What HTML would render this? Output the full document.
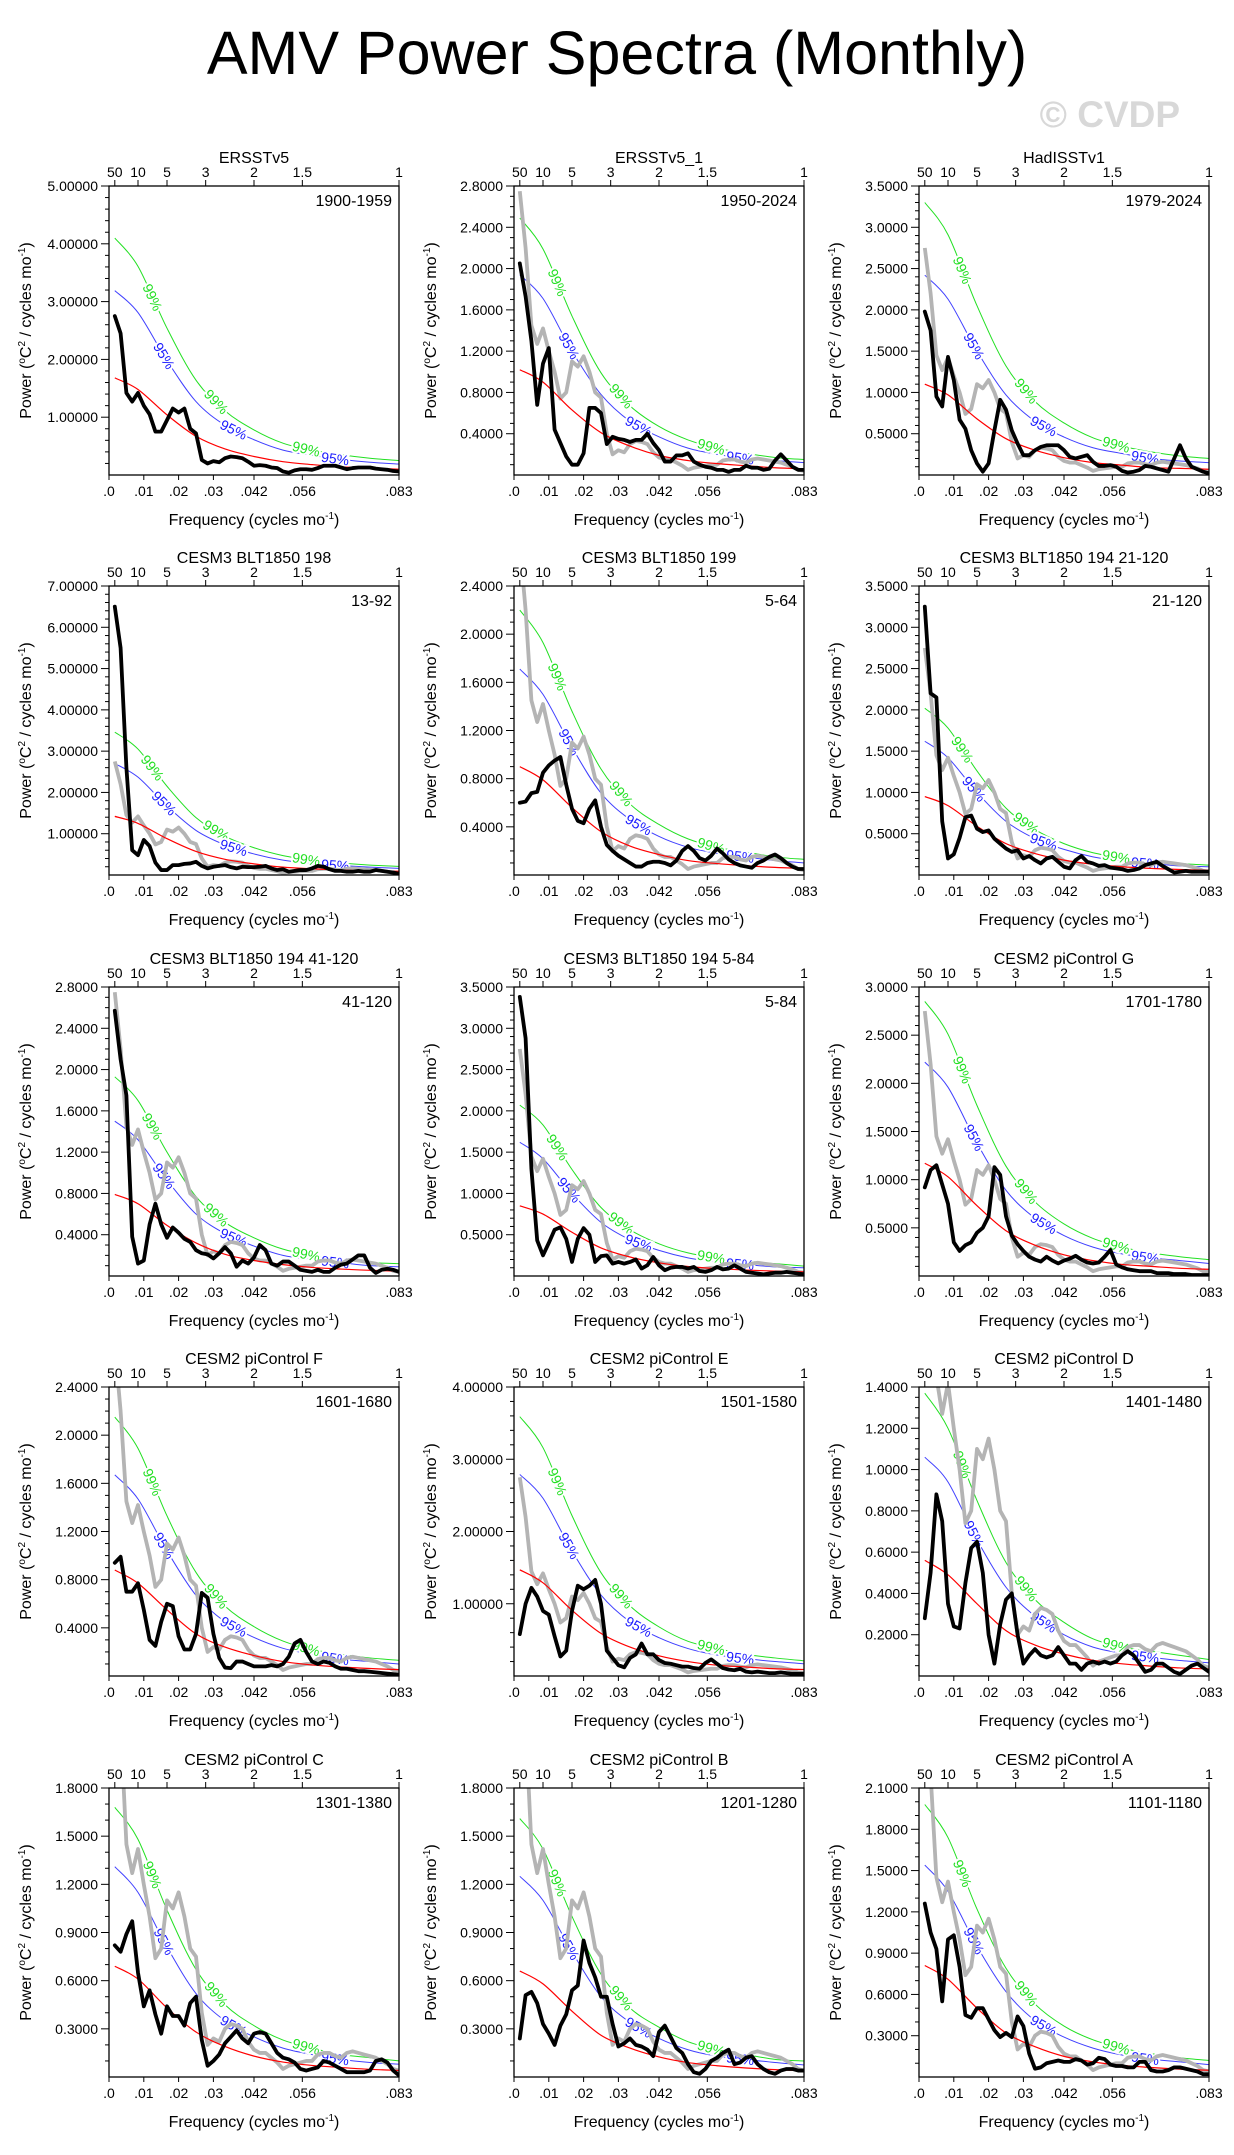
<!DOCTYPE html>
<html><head><meta charset="utf-8"><title>AMV Power Spectra (Monthly)</title>
<style>
html,body{margin:0;padding:0;background:#fff;}
svg{display:block;font-family:"Liberation Sans",Arial,sans-serif;}
</style></head>
<body>
<svg id="chart" width="1234" height="2155" viewBox="0 0 1234 2155" xmlns="http://www.w3.org/2000/svg">
<rect x="0" y="0" width="1234" height="2155" fill="#fff"/>
<text x="617" y="74" font-size="61" text-anchor="middle" fill="#000">AMV Power Spectra (Monthly)</text>
<text x="1180" y="127" font-size="37" font-weight="bold" text-anchor="end" fill="#d8d8d8">© CVDP</text>
<g id="panels"></g>
</svg>
<script>
// ---------- data ----------
const freqMax = 1/12;
const freqStep = 1/600;
const freqTickValues = [0, 0.01, 0.02, 0.03, 1/24, 1/18, 1/12];
const freqTickLabels = [".0", ".01", ".02", ".03", ".042", ".056", ".083"];
const periodTickYears = [50, 10, 5, 3, 2, 1.5, 1];
const periodTickLabels = ["50", "10", "5", "3", "2", "1.5", "1"];
const ciIndex = [1, 5, 10, 15, 20, 25, 30, 35, 40, 45, 50];

const grayRef = [2.75,2.2,1.45,1.27,1.42,1.2,1.0,0.74,0.8,1.1,1.05,1.15,1.0,0.8,0.75,0.4,0.2,0.24,0.22,0.3,0.33,0.32,0.3,0.22,0.17,0.15,0.15,0.12,0.09,0.05,0.07,0.08,0.09,0.1,0.1,0.14,0.15,0.15,0.13,0.12,0.15,0.16,0.15,0.14,0.13,0.12,0.1,0.08,0.05,0.04];

const black1 = [2.75,2.45,1.42,1.27,1.42,1.2,1.05,0.75,0.75,0.95,1.15,1.08,1.15,0.8,0.72,0.26,0.2,0.24,0.22,0.29,0.32,0.31,0.29,0.23,0.16,0.17,0.16,0.13,0.12,0.06,0.04,0.08,0.1,0.1,0.09,0.12,0.16,0.16,0.16,0.13,0.1,0.12,0.13,0.13,0.13,0.11,0.1,0.09,0.07,0.06];
const black2 = [2.05,1.73,1.3,0.68,1.08,1.23,0.44,0.31,0.18,0.1,0.1,0.21,0.65,0.65,0.6,0.3,0.37,0.35,0.34,0.32,0.34,0.34,0.4,0.31,0.24,0.13,0.13,0.19,0.19,0.21,0.13,0.1,0.08,0.07,0.05,0.05,0.03,0.05,0.05,0.09,0.07,0.07,0.05,0.06,0.14,0.2,0.14,0.08,0.05,0.05];
const black3 = [1.98,1.75,0.95,0.83,1.43,1.15,0.67,0.56,0.3,0.14,0.04,0.14,0.54,0.91,0.79,0.54,0.38,0.24,0.24,0.3,0.34,0.36,0.36,0.36,0.3,0.22,0.2,0.22,0.24,0.16,0.11,0.11,0.12,0.1,0.05,0.03,0.04,0.06,0.11,0.1,0.08,0.06,0.04,0.2,0.36,0.2,0.1,0.07,0.04,0.02];
const black4 = [6.5,5.5,2.6,0.6,0.48,0.85,0.7,0.3,0.12,0.12,0.24,0.24,0.27,0.28,0.32,0.22,0.16,0.2,0.22,0.24,0.19,0.16,0.2,0.19,0.19,0.2,0.22,0.16,0.12,0.14,0.08,0.1,0.12,0.12,0.16,0.22,0.2,0.14,0.1,0.1,0.08,0.08,0.1,0.08,0.08,0.12,0.1,0.08,0.06,0.03];
const black5 = [0.6,0.61,0.68,0.69,0.85,0.91,0.95,0.98,0.75,0.55,0.45,0.43,0.55,0.62,0.4,0.25,0.2,0.16,0.13,0.1,0.07,0.07,0.1,0.11,0.11,0.1,0.08,0.12,0.2,0.24,0.2,0.14,0.12,0.16,0.22,0.18,0.13,0.1,0.08,0.07,0.06,0.1,0.12,0.15,0.17,0.14,0.1,0.07,0.05,0.05];
const black6 = [3.25,2.2,2.15,0.65,0.2,0.25,0.45,0.7,0.72,0.56,0.52,0.54,0.44,0.38,0.32,0.28,0.3,0.2,0.23,0.18,0.14,0.2,0.22,0.16,0.1,0.08,0.18,0.23,0.16,0.14,0.11,0.12,0.09,0.08,0.07,0.05,0.06,0.08,0.12,0.14,0.16,0.11,0.07,0.03,0.04,0.05,0.04,0.04,0.04,0.04];
const black7 = [2.57,2.1,1.75,0.38,0.12,0.15,0.5,0.7,0.5,0.37,0.47,0.42,0.36,0.33,0.25,0.22,0.21,0.17,0.22,0.28,0.22,0.09,0.15,0.12,0.18,0.3,0.25,0.12,0.1,0.14,0.14,0.1,0.06,0.05,0.04,0.06,0.04,0.04,0.08,0.11,0.12,0.16,0.2,0.2,0.08,0.03,0.06,0.07,0.06,0.04];
const black8 = [3.38,2.88,1.3,0.43,0.25,0.4,0.56,0.59,0.45,0.17,0.45,0.58,0.5,0.17,0.24,0.25,0.15,0.17,0.15,0.17,0.2,0.09,0.13,0.23,0.13,0.07,0.1,0.11,0.11,0.09,0.11,0.06,0.05,0.07,0.11,0.08,0.09,0.13,0.09,0.05,0.04,0.03,0.02,0.03,0.04,0.04,0.05,0.04,0.03,0.02];
const black9 = [0.92,1.1,1.15,0.95,0.75,0.35,0.26,0.32,0.35,0.45,0.5,0.62,1.13,1.05,0.62,0.42,0.33,0.26,0.2,0.17,0.15,0.2,0.16,0.13,0.16,0.18,0.21,0.17,0.14,0.13,0.14,0.2,0.27,0.12,0.09,0.07,0.06,0.05,0.05,0.05,0.03,0.03,0.03,0.02,0.02,0.02,0.01,0.01,0.01,0.01];
const black10 = [0.94,0.99,0.7,0.7,0.77,0.55,0.3,0.25,0.45,0.6,0.58,0.33,0.22,0.22,0.35,0.69,0.65,0.35,0.15,0.07,0.065,0.12,0.12,0.1,0.08,0.08,0.08,0.09,0.08,0.1,0.16,0.27,0.3,0.2,0.12,0.1,0.12,0.11,0.08,0.06,0.06,0.05,0.04,0.04,0.035,0.03,0.025,0.02,0.015,0.01];
const black11 = [0.58,1.0,1.22,1.1,0.9,0.85,0.55,0.27,0.35,0.9,1.25,1.2,1.25,1.33,1.0,0.35,0.25,0.15,0.12,0.25,0.3,0.45,0.3,0.3,0.22,0.18,0.17,0.15,0.13,0.13,0.11,0.1,0.18,0.23,0.17,0.11,0.09,0.08,0.1,0.06,0.05,0.06,0.05,0.04,0.04,0.05,0.04,0.03,0.03,0.03];
const black12 = [0.28,0.5,0.88,0.75,0.35,0.24,0.23,0.45,0.62,0.65,0.5,0.2,0.06,0.25,0.37,0.4,0.2,0.06,0.1,0.13,0.1,0.09,0.1,0.14,0.1,0.06,0.06,0.03,0.06,0.07,0.06,0.07,0.06,0.07,0.1,0.12,0.1,0.06,0.02,0.03,0.06,0.06,0.04,0.02,0.01,0.03,0.05,0.06,0.04,0.02];
const black13 = [0.82,0.78,0.89,0.97,0.65,0.44,0.54,0.39,0.27,0.44,0.38,0.38,0.32,0.46,0.5,0.23,0.07,0.1,0.14,0.21,0.25,0.29,0.24,0.21,0.27,0.28,0.27,0.21,0.15,0.12,0.11,0.09,0.05,0.04,0.05,0.06,0.1,0.09,0.07,0.05,0.03,0.03,0.03,0.03,0.04,0.1,0.11,0.09,0.04,0.01];
const black14 = [0.24,0.51,0.53,0.46,0.33,0.27,0.2,0.32,0.39,0.54,0.57,0.85,0.71,0.62,0.5,0.5,0.33,0.19,0.21,0.24,0.2,0.19,0.17,0.13,0.28,0.32,0.25,0.18,0.15,0.08,0.03,0.02,0.05,0.1,0.12,0.15,0.17,0.08,0.09,0.12,0.13,0.08,0.05,0.03,0.02,0.04,0.05,0.05,0.04,0.04];
const black15 = [1.26,1.05,0.93,0.55,1.0,1.03,0.8,0.45,0.43,0.5,0.5,0.42,0.34,0.29,0.32,0.29,0.44,0.37,0.17,0.06,0.07,0.1,0.11,0.12,0.11,0.11,0.13,0.12,0.09,0.1,0.14,0.13,0.09,0.08,0.08,0.07,0.07,0.11,0.11,0.05,0.04,0.04,0.05,0.07,0.07,0.06,0.05,0.04,0.02,0.02];

const red1 = [1.68,1.48,1.04,0.67,0.45,0.32,0.23,0.18,0.14,0.12,0.10];
const blue1 = [3.19,2.81,1.98,1.27,0.86,0.61,0.43,0.34,0.27,0.22,0.19];
const green1 = [4.10,3.61,2.54,1.64,1.11,0.78,0.55,0.43,0.35,0.29,0.25];
const red2 = [1.02,0.90,0.63,0.41,0.28,0.19,0.14,0.11,0.09,0.07,0.06];
const blue2 = [1.94,1.71,1.20,0.78,0.52,0.37,0.26,0.20,0.16,0.14,0.12];
const green2 = [2.49,2.19,1.54,0.99,0.67,0.47,0.34,0.26,0.21,0.17,0.15];
const red3 = [1.10,0.97,0.68,0.44,0.30,0.21,0.15,0.12,0.09,0.08,0.07];
const blue3 = [2.42,2.13,1.50,0.97,0.65,0.46,0.33,0.26,0.20,0.17,0.15];
const green3 = [3.30,2.91,2.05,1.32,0.89,0.63,0.45,0.35,0.28,0.23,0.20];
const red4 = [1.42,1.25,0.88,0.57,0.38,0.27,0.19,0.15,0.12,0.10,0.09];
const blue4 = [2.70,2.37,1.67,1.08,0.73,0.51,0.36,0.28,0.23,0.19,0.16];
const green4 = [3.46,3.05,2.15,1.39,0.94,0.66,0.47,0.36,0.29,0.24,0.21];
const red5 = [0.90,0.79,0.56,0.36,0.24,0.17,0.12,0.095,0.077,0.063,0.054];
const blue5 = [1.71,1.50,1.06,0.68,0.46,0.32,0.23,0.18,0.15,0.12,0.10];
const green5 = [2.20,1.93,1.36,0.88,0.59,0.42,0.30,0.23,0.19,0.15,0.13];
const red6 = [0.95,0.84,0.59,0.38,0.26,0.18,0.13,0.10,0.08,0.067,0.057];
const blue6 = [1.62,1.42,1.00,0.65,0.44,0.31,0.22,0.17,0.14,0.11,0.10];
const green6 = [2.02,1.78,1.26,0.81,0.55,0.38,0.27,0.21,0.17,0.14,0.12];
const red7 = [0.79,0.70,0.49,0.32,0.21,0.15,0.11,0.083,0.067,0.055,0.047];
const blue7 = [1.50,1.32,0.93,0.60,0.41,0.29,0.20,0.16,0.13,0.10,0.09];
const green7 = [1.93,1.70,1.20,0.77,0.52,0.37,0.26,0.20,0.16,0.13,0.12];
const red8 = [0.85,0.75,0.53,0.34,0.23,0.16,0.115,0.09,0.072,0.06,0.051];
const blue8 = [1.62,1.42,1.00,0.65,0.44,0.31,0.22,0.17,0.14,0.11,0.10];
const green8 = [2.07,1.83,1.29,0.83,0.56,0.39,0.28,0.22,0.18,0.15,0.12];
const red9 = [1.17,1.03,0.73,0.47,0.32,0.22,0.16,0.12,0.10,0.08,0.07];
const blue9 = [2.22,1.96,1.38,0.89,0.60,0.42,0.30,0.23,0.19,0.16,0.13];
const green9 = [2.85,2.51,1.77,1.14,0.77,0.54,0.39,0.30,0.24,0.20,0.17];
const red10 = [0.88,0.77,0.55,0.35,0.24,0.17,0.12,0.092,0.075,0.062,0.053];
const blue10 = [1.67,1.47,1.04,0.67,0.45,0.32,0.23,0.18,0.14,0.12,0.10];
const green10 = [2.15,1.89,1.33,0.86,0.58,0.41,0.29,0.22,0.18,0.15,0.13];
const red11 = [1.47,1.29,0.91,0.59,0.40,0.28,0.20,0.15,0.125,0.10,0.09];
const blue11 = [2.79,2.46,1.73,1.12,0.75,0.53,0.38,0.29,0.24,0.20,0.17];
const green11 = [3.59,3.16,2.22,1.43,0.97,0.68,0.48,0.38,0.30,0.25,0.21];
const red12 = [0.56,0.49,0.35,0.22,0.15,0.106,0.076,0.059,0.048,0.039,0.034];
const blue12 = [1.06,0.94,0.66,0.43,0.29,0.20,0.14,0.11,0.09,0.075,0.064];
const green12 = [1.37,1.20,0.85,0.55,0.37,0.26,0.18,0.14,0.12,0.10,0.08];
const red13 = [0.69,0.61,0.43,0.28,0.19,0.13,0.093,0.072,0.059,0.048,0.041];
const blue13 = [1.31,1.15,0.81,0.52,0.35,0.25,0.18,0.14,0.11,0.09,0.08];
const green13 = [1.68,1.48,1.04,0.67,0.45,0.32,0.23,0.18,0.14,0.12,0.10];
const red14 = [0.66,0.58,0.41,0.26,0.18,0.125,0.09,0.07,0.056,0.046,0.04];
const blue14 = [1.25,1.10,0.78,0.50,0.34,0.24,0.17,0.13,0.11,0.09,0.075];
const green14 = [1.61,1.42,1.00,0.64,0.43,0.31,0.22,0.17,0.14,0.11,0.10];
const red15 = [0.81,0.71,0.50,0.32,0.22,0.15,0.11,0.085,0.069,0.057,0.049];
const blue15 = [1.54,1.35,0.95,0.62,0.41,0.29,0.21,0.16,0.13,0.11,0.09];
const green15 = [1.98,1.74,1.22,0.79,0.53,0.37,0.27,0.21,0.17,0.14,0.12];

const panelTitles = ["ERSSTv5","ERSSTv5_1","HadISSTv1","CESM3 BLT1850 198","CESM3 BLT1850 199","CESM3 BLT1850 194 21-120","CESM3 BLT1850 194 41-120","CESM3 BLT1850 194 5-84","CESM2 piControl G","CESM2 piControl F","CESM2 piControl E","CESM2 piControl D","CESM2 piControl C","CESM2 piControl B","CESM2 piControl A"];
const panelYears = ["1900-1959","1950-2024","1979-2024","13-92","5-64","21-120","41-120","5-84","1701-1780","1601-1680","1501-1580","1401-1480","1301-1380","1201-1280","1101-1180"];
const panelYMax = [5.0,2.8,3.5,7.0,2.4,3.5,2.8,3.5,3.0,2.4,4.0,1.4,1.8,1.8,2.1];
const panelYStep = [1.0,0.4,0.5,1.0,0.4,0.5,0.4,0.5,0.5,0.4,1.0,0.2,0.3,0.3,0.3];
const panelYDecimals = [5,4,4,5,4,4,4,4,4,4,5,4,4,4,4];
const blackSeries = [black1,black2,black3,black4,black5,black6,black7,black8,black9,black10,black11,black12,black13,black14,black15];
const redSeries = [red1,red2,red3,red4,red5,red6,red7,red8,red9,red10,red11,red12,red13,red14,red15];
const blueSeries = [blue1,blue2,blue3,blue4,blue5,blue6,blue7,blue8,blue9,blue10,blue11,blue12,blue13,blue14,blue15];
const greenSeries = [green1,green2,green3,green4,green5,green6,green7,green8,green9,green10,green11,green12,green13,green14,green15];
const showGray = [false,true,true,true,true,true,true,true,true,true,true,true,true,true,true];

// ---------- drawing ----------
const NS = "http://www.w3.org/2000/svg";
const root = document.getElementById("panels");
const PW = 290, PH = 289;
const colLeft = [109, 514, 919];
const rowTop = [186, 586, 987, 1387, 1788];

function mk(tag, attrs, parent) {
  const el = document.createElementNS(NS, tag);
  for (const k in attrs) el.setAttribute(k, attrs[k]);
  parent.appendChild(el);
  return el;
}
function smoothPath(pts) {
  let d = "M" + pts[0][0].toFixed(2) + "," + pts[0][1].toFixed(2);
  for (let i = 0; i < pts.length - 1; i++) {
    const p0 = pts[Math.max(0, i - 1)], p1 = pts[i], p2 = pts[i + 1], p3 = pts[Math.min(pts.length - 1, i + 2)];
    const c1x = p1[0] + (p2[0] - p0[0]) / 6, c1y = p1[1] + (p2[1] - p0[1]) / 6;
    const c2x = p2[0] - (p3[0] - p1[0]) / 6, c2y = p2[1] - (p3[1] - p1[1]) / 6;
    d += " C" + c1x.toFixed(2) + "," + c1y.toFixed(2) + " " + c2x.toFixed(2) + "," + c2y.toFixed(2) + " " + p2[0].toFixed(2) + "," + p2[1].toFixed(2);
  }
  return d;
}
function interpAt(pts, x) {
  for (let i = 0; i < pts.length - 1; i++) {
    if (x >= pts[i][0] && x <= pts[i + 1][0]) {
      const t = (x - pts[i][0]) / (pts[i + 1][0] - pts[i][0]);
      return { y: pts[i][1] + t * (pts[i + 1][1] - pts[i][1]),
               ang: Math.atan2(pts[i + 1][1] - pts[i][1], pts[i + 1][0] - pts[i][0]) * 180 / Math.PI };
    }
  }
  return { y: pts[pts.length - 1][1], ang: 0 };
}

for (let k = 0; k < 15; k++) {
  const L = colLeft[k % 3], T = rowTop[Math.floor(k / 3)];
  const B = T + PH, R = L + PW;
  const ymax = panelYMax[k];
  const xs = f => L + f / freqMax * PW;
  const ys = v => B - v / ymax * PH;

  const g = mk("g", {}, root);
  
  

  const clipId = "clip" + k;
  const cp = mk("clipPath", { id: clipId }, g);
  mk("rect", { x: L, y: T, width: PW, height: PH }, cp);

  const tt = mk("text", { x: L + PW / 2, y: T - 23, "font-size": 16, "text-anchor": "middle", fill: "#000" }, g);
  tt.textContent = panelTitles[k];
  
  

  const yr = mk("text", { x: R - 7, y: T + 20, "font-size": 16, "text-anchor": "end", fill: "#000" }, g);
  yr.textContent = panelYears[k];
  
  

  const cg = mk("g", { "clip-path": "url(#" + clipId + ")" }, g);
  const confSets = [
    { arr: greenSeries[k], color: "#22e022", name: "ci99-curve", label: "99%", lab: [7.5, 18.5, 34] },
    { arr: blueSeries[k], color: "#4040ff", name: "ci95-curve", label: "95%", lab: [9.5, 21.5, 39] }
  ];
  const labelItems = [];
  confSets.forEach(cs => {
    const pts = ciIndex.map((ix, j) => [xs(ix * freqStep), ys(cs.arr[j])]);
    const p = mk("path", { d: smoothPath(pts), fill: "none", stroke: cs.color, "stroke-width": 1 }, cg);
    
    
    cs.lab.forEach(ix => labelItems.push({ pts, ix, cs }));
  });
  labelItems.forEach(li => {
    const x = xs(li.ix * freqStep);
    const r = interpAt(li.pts, x);
    const t = mk("text", { x: x, y: r.y + 5, "font-size": 14, "text-anchor": "middle", fill: li.cs.color === "#4040ff" ? "#1a1aff" : "#22e022",
      stroke: "#fff", "stroke-width": 4, "paint-order": "stroke", transform: "rotate(" + r.ang.toFixed(1) + " " + x.toFixed(1) + " " + r.y.toFixed(1) + ")" }, cg);
    t.textContent = li.cs.label;
    
    
  });

  if (showGray[k]) {
    const gp = grayRef.map((v, i) => xs((i + 1) * freqStep).toFixed(2) + "," + ys(v).toFixed(2)).join(" ");
    const pl = mk("polyline", { points: gp, fill: "none", stroke: "#b4b4b4", "stroke-width": 3.8, "stroke-linejoin": "round" }, cg);
    
    
  }
  const rpts = ciIndex.map((ix, j) => [xs(ix * freqStep), ys(redSeries[k][j])]);
  const rp = mk("path", { d: smoothPath(rpts), fill: "none", stroke: "#ff0000", "stroke-width": 1.2 }, cg);
  
  

  const bp = blackSeries[k].map((v, i) => xs((i + 1) * freqStep).toFixed(2) + "," + ys(v).toFixed(2)).join(" ");
  const bl = mk("polyline", { points: bp, fill: "none", stroke: "#000", "stroke-width": 3.8, "stroke-linejoin": "round", "stroke-linecap": "round" }, cg);
  
  

  const fr = mk("rect", { x: L, y: T, width: PW, height: PH, fill: "none", stroke: "#000", "stroke-width": 1.3 }, g);
  
  

  freqTickValues.forEach((f, i) => {
    const x = xs(f);
    mk("line", { x1: x, y1: B, x2: x, y2: B + 5, stroke: "#000", "stroke-width": 1 }, g);
    const t = mk("text", { x: x, y: B + 21, "font-size": 14, "text-anchor": "middle", fill: "#000" }, g);
    t.textContent = freqTickLabels[i];
    
    
  });
  periodTickYears.forEach((p, i) => {
    const x = xs(1 / (12 * p));
    mk("line", { x1: x, y1: T, x2: x, y2: T - 6, stroke: "#000", "stroke-width": 1 }, g);
    const t = mk("text", { x: x, y: T - 9, "font-size": 14, "text-anchor": "middle", fill: "#000" }, g);
    t.textContent = periodTickLabels[i];
    
    
  });
  const step = panelYStep[k];
  const minor = step >= 1 ? 0.2 : (step === 0.2 ? 0.05 : 0.1);
  const nMin = Math.round(ymax / minor);
  for (let j = 1; j <= nMin; j++) {
    const v = j * minor;
    const y = ys(v);
    const isMajor = Math.abs(v / step - Math.round(v / step)) < 1e-6;
    mk("line", { x1: L, y1: y, x2: L - (isMajor ? 8 : 4), y2: y, stroke: "#000", "stroke-width": 1 }, g);
    if (isMajor) {
      const t = mk("text", { x: L - 11, y: y + 5, "font-size": 14, "text-anchor": "end", fill: "#000" }, g);
      t.textContent = v.toFixed(panelYDecimals[k]);
      
      
    }
  }
  const xt = mk("text", { x: L + PW / 2, y: B + 50, "font-size": 16, "text-anchor": "middle", fill: "#000" }, g);
  xt.innerHTML = 'Frequency (cycles mo<tspan dy="-6" font-size="10">-1</tspan><tspan dy="6">)</tspan>';
  
  
  const cy = T + PH / 2;
  const yt = mk("text", { x: L - 78, y: cy, "font-size": 16, "text-anchor": "middle", fill: "#000", transform: "rotate(-90 " + (L - 78) + " " + cy + ")" }, g);
  yt.innerHTML = 'Power (<tspan dy="-6" font-size="10">o</tspan><tspan dy="6">C</tspan><tspan dy="-6" font-size="10">2</tspan><tspan dy="6"> / cycles mo</tspan><tspan dy="-6" font-size="10">-1</tspan><tspan dy="6">)</tspan>';
  
  
}
</script>
</body></html>
